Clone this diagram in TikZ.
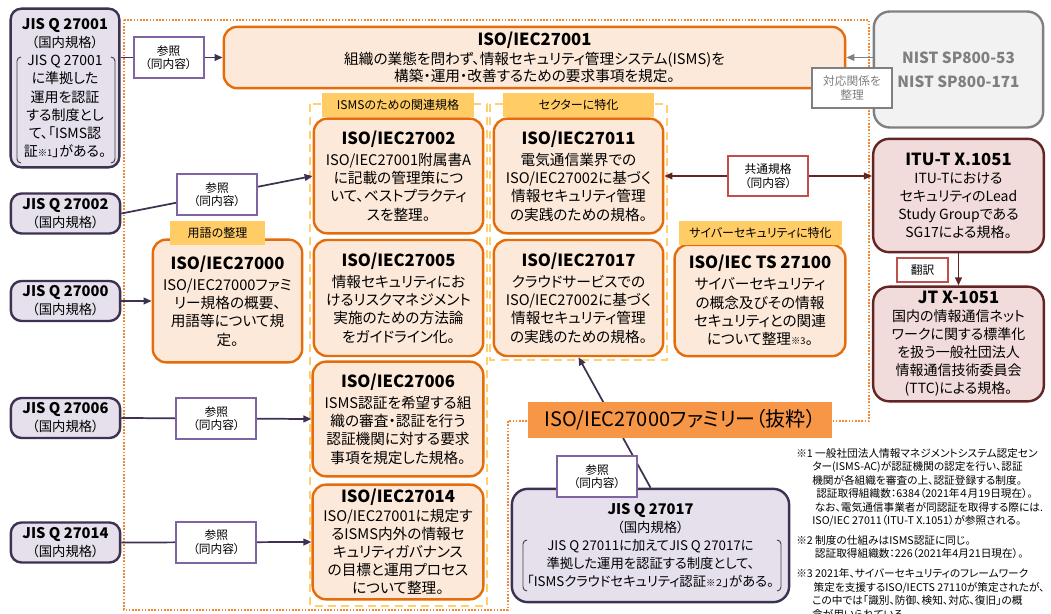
\documentclass[tikz,border=0pt]{standalone}
\usepackage{fontspec}
\setmainfont{Noto Sans CJK JP}[RawFeature=+palt]
\usepackage{xcolor}
\usetikzlibrary{arrows.meta}
\definecolor{isofill}{HTML}{FDE9D9}
\definecolor{isoline}{HTML}{E46C0A}
\definecolor{jisfill}{HTML}{E5E0EC}
\definecolor{jisline}{HTML}{3F3151}
\definecolor{refline}{HTML}{8064A2}
\definecolor{tabfill}{HTML}{FFCC66}
\definecolor{grpline}{HTML}{FFCF70}
\definecolor{dotline}{HTML}{F28A35}
\definecolor{famfill}{HTML}{F79646}
\definecolor{nistfill}{HTML}{F2F2F2}
\definecolor{nistline}{HTML}{808080}
\definecolor{nisttext}{HTML}{7F7F7F}
\definecolor{itufill}{HTML}{F2DCDB}
\definecolor{ituline}{HTML}{632523}
\definecolor{redline}{HTML}{C0504D}
\newcommand{\boxtitle}[1]{{\fontsize{12.5}{14}\selectfont\bfseries #1}}
\newcommand{\jistitle}[1]{{\fontsize{11}{13}\selectfont\bfseries #1}}
\newcommand{\notemark}[1]{{\fontsize{7}{8}\selectfont #1}}

\begin{document}
\begin{tikzpicture}[x=0.75pt,y=-0.75pt,
  isobox/.style={draw=isoline,fill=isofill,line width=1.8pt,rounded corners=10pt,align=center,inner sep=1pt,font=\fontsize{11}{13.7}\selectfont},
  jisbox/.style={draw=jisline,fill=jisfill,line width=1.8pt,rounded corners=8pt,align=center,inner sep=1pt,font=\fontsize{10}{13.5}\selectfont},
  itubox/.style={draw=ituline,fill=itufill,line width=1.8pt,rounded corners=12pt,align=center,inner sep=1pt,font=\fontsize{10.5}{13.5}\selectfont,minimum width=128pt},
  refbox/.style={draw=refline,fill=white,line width=1.5pt,align=center,inner sep=1pt,font=\fontsize{8.8}{10}\selectfont,minimum width=60pt,minimum height=30.5pt},
  tabbox/.style={fill=tabfill,inner sep=1pt,font=\fontsize{9}{10}\selectfont,minimum height=18pt},
  grpbox/.style={draw=grpline,line width=1.5pt,dash pattern=on 6pt off 4pt},
  brkt/.style={draw=black!75,line width=0.7pt,rounded corners=3pt},
  jisarrow/.style={draw=jisline,line width=1.3pt,-{Triangle[length=6pt,width=5pt]}},
  ituarrow/.style={draw=ituline,line width=1pt},
]
\fill[white] (0,0) rectangle (1051,614);
\useasboundingbox (0,0) rectangle (1051,614);
% frames
\draw[dotline,line width=1.2pt,dash pattern=on 1.2pt off 1.2pt] (124,20) -- (869,20) -- (869,421) -- (508,421) -- (508,610) -- (124,610) -- cycle;
\draw[grpbox] (310,104) rectangle (487,606);
\draw[grpbox] (490,104) rectangle (667,360);
% Define the nodes
\node[isobox,minimum width=466pt,minimum height=46pt,font=\fontsize{11}{12.75}\selectfont] at (534.5,57.5) (i27001) {\boxtitle{ISO/IEC27001}\\[1pt] 組織の業態を問わず、情報セキュリティ管理システム(ISMS)を\\ 構築・運用・改善するための要求事項を規定。};
\node[isobox,minimum width=127pt,minimum height=86pt] at (398.5,176) (i27002) {\boxtitle{ISO/IEC27002}\\[2pt] ISO/IEC27001附属書A\\ に記載の管理策につ\\ いて、ベストプラクティ\\ スを整理。};
\node[isobox,minimum width=127pt,minimum height=87pt] at (398.5,298) (i27005) {\boxtitle{ISO/IEC27005}\\[2pt] 情報セキュリティにお\\ けるリスクマネジメント\\ 実施のための方法論\\ をガイドライン化。};
\node[isobox,minimum width=127pt,minimum height=86pt] at (578.5,176) (i27011) {\boxtitle{ISO/IEC27011}\\[2pt] 電気通信業界での\\ ISO/IEC27002に基づく\\ 情報セキュリティ管理\\ の実践のための規格。};
\node[isobox,minimum width=127pt,minimum height=87pt] at (578.5,298) (i27017) {\boxtitle{ISO/IEC27017}\\[2pt] クラウドサービスでの\\ ISO/IEC27002に基づく\\ 情報セキュリティ管理\\ の実践のための規格。};
\node[isobox,minimum width=128pt,minimum height=83.5pt] at (760,300.5) (i27100) {\boxtitle{ISO/IEC TS 27100}\\[2pt] サイバーセキュリティ\\ の概念及びその情報\\ セキュリティとの関連\\ について整理\notemark{※3}。};
\node[isobox,minimum width=112pt,minimum height=92pt] at (227.5,301) (i27000) {\boxtitle{ISO/IEC27000}\\[2pt] ISO/IEC27000ファミ\\ リー規格の概要、\\ 用語等について規\\ 定。};
\node[isobox,minimum width=128pt,minimum height=86pt] at (398,419) (i27006) {\boxtitle{ISO/IEC27006}\\[2pt] ISMS認証を希望する組\\ 織の審査・認証を行う\\ 認証機関に対する要求\\ 事項を規定した規格。};
\node[isobox,minimum width=128pt,minimum height=86pt,font=\fontsize{11}{13.6}\selectfont] at (398,542) (i27014) {\boxtitle{ISO/IEC27014}\\ ISO/IEC27001に規定す\\ るISMS内外の情報セ\\ キュリティガバナンス\\ の目標と運用プロセス\\ について整理。};
\node[jisbox,minimum width=81.5pt,minimum height=119pt,font=\fontsize{10.5}{13.7}\selectfont] at (65,88) (j27001) {\jistitle{JIS Q 27001}\\ {\fontsize{10}{12}\selectfont （国内規格）}\\ JIS Q 27001\\ に準拠した\\ 運用を認証\\ する制度とし\\ て、「ISMS認\\ 証\notemark{※1}」がある。};
\node[jisbox,minimum width=82pt,minimum height=30pt] at (65.5,213.5) (j27002) {\jistitle{JIS Q 27002}\\ （国内規格）};
\node[jisbox,minimum width=82pt,minimum height=30pt] at (65.5,301) (j27000) {\jistitle{JIS Q 27000}\\ （国内規格）};
\node[jisbox,minimum width=82pt,minimum height=30pt] at (65.5,418) (j27006) {\jistitle{JIS Q 27006}\\ （国内規格）};
\node[jisbox,minimum width=82pt,minimum height=30pt] at (65.5,542.5) (j27014) {\jistitle{JIS Q 27014}\\ （国内規格）};
\node[jisbox,minimum width=208pt,minimum height=85pt,rounded corners=12pt] at (650.5,545.5) (j27017) {\jistitle{JIS Q 27017}\\ （国内規格）\\ JIS Q 27011に加えてJIS Q 27017に\\ 準拠した運用を認証する制度として、\\ 「ISMSクラウドセキュリティ認証\notemark{※２}」がある。};
\node[draw=nistline,fill=nistfill,line width=1.8pt,rounded corners=12pt,minimum width=127pt,minimum height=87pt,text=nisttext,align=center,font=\fontsize{11.5}{18}\selectfont\bfseries] at (958.5,69.5) (nist) {NIST SP800-53\\ NIST SP800-171};
\node[itubox,minimum height=85pt] at (958.5,195.5) (itu) {\boxtitle{ITU-T X.1051}\\ ITU-Tにおける\\ セキュリティのLead\\ Study Groupである\\ SG17による規格。};
\node[itubox,minimum height=86pt] at (958.5,344) (jt) {\boxtitle{JT X-1051}\\ 国内の情報通信ネット\\ ワークに関する標準化\\ を扱う一般社団法人\\ 情報通信技術委員会\\ (TTC)による規格。};
% tabs
\node[tabbox,minimum width=114pt] at (398,105) (tisms) {ISMSのための関連規格};
\node[tabbox,minimum width=113pt] at (578.5,105) (tsector) {セクターに特化};
\node[tabbox,minimum width=122pt] at (760.5,233) (tcyber) {サイバーセキュリティに特化};
\node[tabbox,minimum width=71pt] at (217.5,233) (tterm) {用語の整理};
% Draw the paths
\draw[jisarrow] (j27001.east |- i27001.west) -- (i27001.west) node[refbox,pos=0.47,minimum width=52.5pt] (r1) {参照\\（同内容）};
\draw[jisarrow] (j27002.east) -- (i27002.west) node[refbox,midway] (r2) {参照\\（同内容）};
\draw[jisarrow] (j27000.east) -- (i27000.west);
\draw[jisarrow] (j27006.east) -- (i27006.west) node[refbox,midway] (r3) {参照\\（同内容）};
\draw[jisarrow] (j27014.east) -- (i27014.west) node[refbox,midway] (r4) {参照\\（同内容）};
\draw[jisarrow] (j27017.north) -- (i27017.south);
\node[refbox] at (597,476.5) (r5) {参照\\（同内容）};
\draw[draw=nistline,line width=1.3pt,-{Triangle[length=6pt,width=5pt]}] (nist.west |- i27001.east) -- (i27001.east);
\node[refbox,draw=nistline,text=nisttext] at (852,88) (r6) {対応関係を\\整理};
\draw[ituarrow,{Triangle[length=6pt,width=5pt]}-{Triangle[length=6pt,width=5pt]}] (i27011.east) -- (i27011.east -| itu.west) node[refbox,draw=redline,midway] (r7) {共通規格\\（同内容）};
\draw[ituarrow,line width=1.3pt,-{Triangle[length=6pt,width=5pt]}] (itu.south) -- (jt.north);
\node[refbox,draw=redline,minimum width=38pt,minimum height=18pt] at (922.5,270) (r8) {翻訳};
\node[fill=famfill,minimum width=228pt,minimum height=27pt,inner sep=1pt,font=\fontsize{15}{18}\selectfont] at (680,420) (fam) {ISO/IEC27000ファミリー（抜粋）};
% notes
\node[anchor=north west,align=left,inner sep=0pt,font=\fontsize{8}{10.1}\selectfont] at (796,448) (notes) {※1 一般社団法人情報マネジメントシステム認定セン\\
\hspace*{12pt}ター(ISMS-AC)が認証機関の認定を行い、認証\\
\hspace*{12pt}機関が各組織を審査の上、認証登録する制度。\\
\hspace*{15pt}認証取得組織数：6384（2021年４月19日現在）。\\
\hspace*{14pt}なお、電気通信事業者が同認証を取得する際には.\\
\hspace*{12pt}ISO/IEC 27011（ITU-T X.1051）が参照される。\\[4.5pt]
※2 制度の仕組みはISMS認証に同じ。\\
\hspace*{14pt}認証取得組織数：226（2021年4月21日現在）。\\[5pt]
※3 2021年、サイバーセキュリティのフレームワーク\\
\hspace*{13pt}策定を支援するISO/IECTS 27110が策定されたが、\\
\hspace*{12pt}この中では「識別、防御、検知、対応、復旧」の概\\
\hspace*{12pt}念が用いられている。};
% brackets
\draw[brkt] (21,57) -- (17,57) -- (17,163) -- (21,163);
\draw[brkt] (111,57) -- (115,57) -- (115,163) -- (111,163);
\draw[brkt] (527,540) -- (523,540) -- (523,591) -- (527,591);
\draw[brkt] (777,540) -- (781,540) -- (781,591) -- (777,591);
\end{tikzpicture}
\end{document}
